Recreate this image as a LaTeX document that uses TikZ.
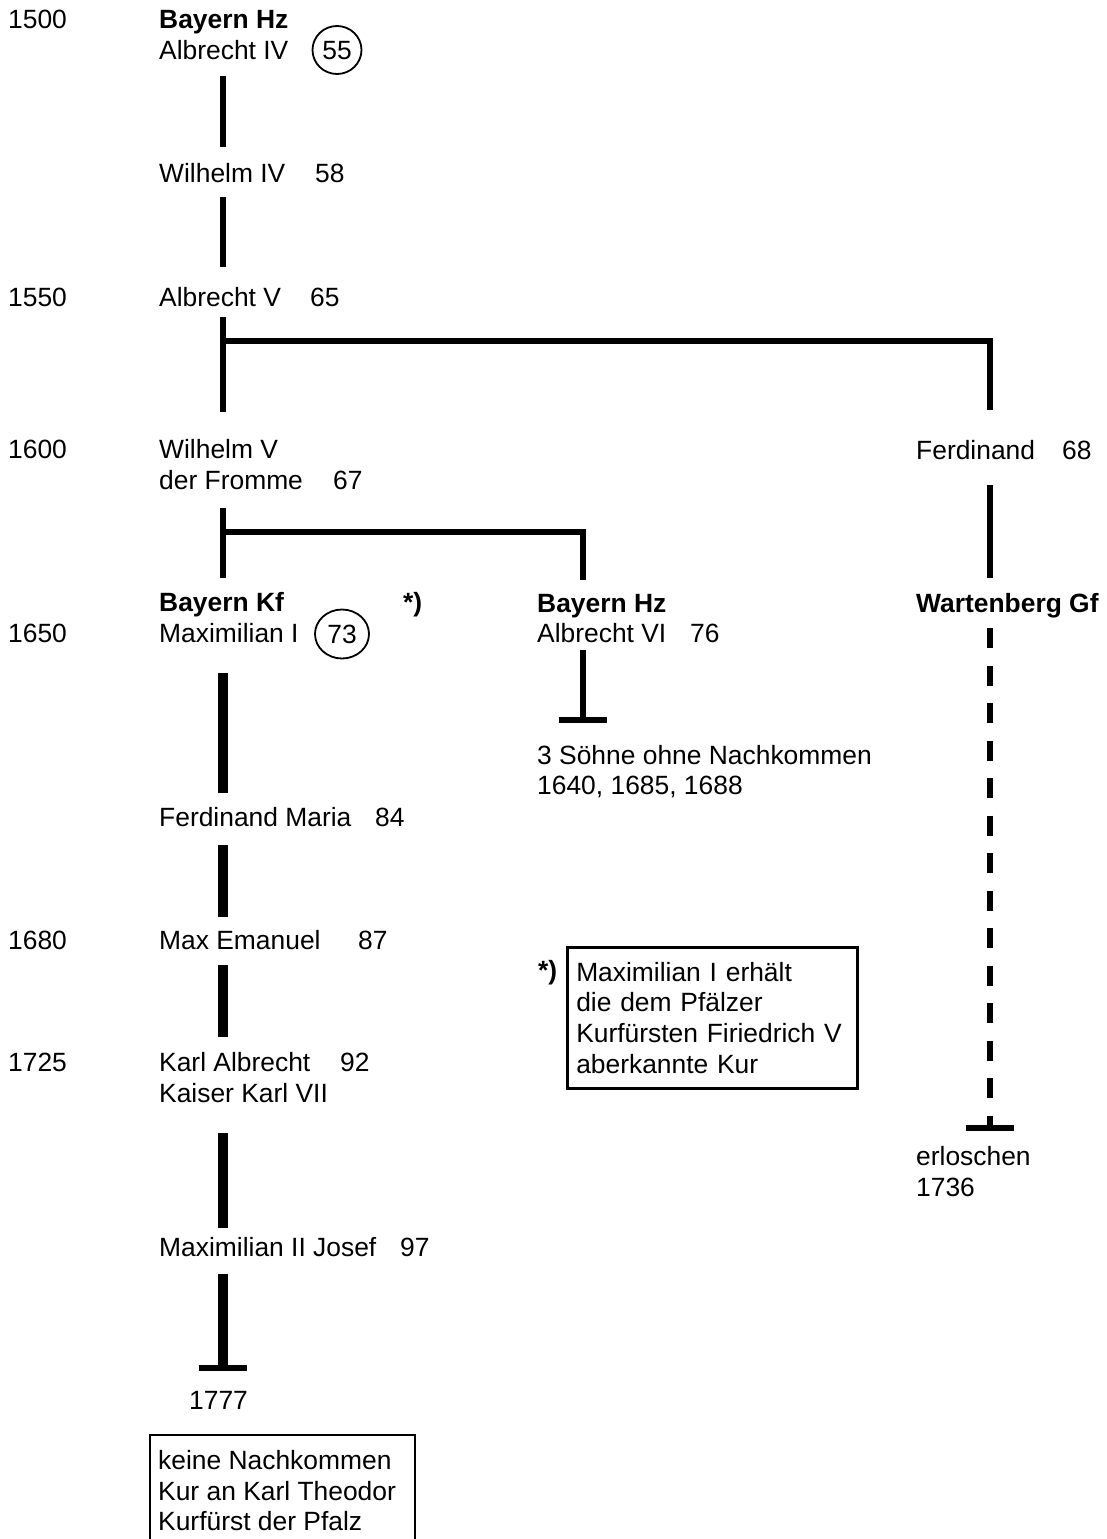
\documentclass[tikz,border=0pt]{standalone}
\usepackage{fontspec}
\setmainfont{Liberation Sans}
\usetikzlibrary{arrows.meta,shapes.geometric}

\newcommand{\chartfont}{\fontsize{26.4pt}{30.7pt}\selectfont}

\tikzset{
  person/.style={anchor=west, inner sep=0pt, text height=18.9pt, text depth=0pt},
  house/.style={person, font=\chartfont\bfseries},
  ring/.style={draw, ellipse, line width=1.8pt, inner sep=0pt, text height=18.9pt, text depth=0pt},
  famline/.style={line width=5.5pt},
  kurline/.style={line width=10pt},
  stopbar/.style={-{Bar[width=48pt, line width=5.5pt]}},
  notebox/.style={draw, line width=2.5pt, align=left, text width=272pt, inner xsep=9pt, minimum height=141pt},
}

\begin{document}
\begin{tikzpicture}[x=1pt, y=-1pt, font=\chartfont]
\useasboundingbox (0,0) rectangle (1106,1539);
\coordinate (spine) at (223,0);
\coordinate (midspine) at (583,0);
\coordinate (rightspine) at (990,0);

% Years
\node[person] (y1500) at (8,19) {1500};
\node[person] (y1550) at (8,297) {1550};
\node[person] (y1600) at (8,449) {1600};
\node[person] (y1650) at (8,633) {1650};
\node[person] (y1680) at (8,940) {1680};
\node[person] (y1725) at (8,1062) {1725};

% Main line
\node[house] (hzA) at (159,19) {Bayern Hz};
\node[person] (albIV) at (159,50) {Albrecht IV};
\node[ring, minimum width=49pt, minimum height=48pt] (c55) at (337,50) {55};
\node[person] (wilIV) at (159,173) {Wilhelm IV};
\node[person] (age58) at (315,173) {58};
\node[person] (albV) at (159,297) {Albrecht V};
\node[person] (age65) at (310,297) {65};
\node[person] (wilV) at (159,449) {Wilhelm V};
\node[person] (fromme) at (159,480) {der Fromme};
\node[person] (age67) at (333,480) {67};
\node[house] (kf) at (159,602) {Bayern Kf};
\node[house] (star1) at (403,602) {*)};
\node[person] (maxI) at (159,633) {Maximilian I};
\node[ring, minimum width=54pt, minimum height=49pt] (c73) at (342,634) {73};
\node[person] (ferdM) at (159,817) {Ferdinand Maria};
\node[person] (age84) at (375,817) {84};
\node[person] (maxE) at (159,940) {Max Emanuel};
\node[person] (age87) at (358,940) {87};
\node[person] (karlA) at (159,1062) {Karl Albrecht};
\node[person] (age92) at (340,1062) {92};
\node[person] (kaiser) at (159,1093) {Kaiser Karl VII};
\node[person] (maxII) at (159,1247) {Maximilian II Josef};
\node[person] (age97) at (400,1247) {97};
\node[person] (end1777) at (189,1400) {1777};
\node[anchor=north west, inner sep=0pt, align=left] (heirs) at (158,1450)
  {keine Nachkommen\\Kur an Karl Theodor\\Kurfürst der Pfalz};
\draw[line width=2.5pt] (150,1560) |- (415,1435) -- (415,1560);

% Albrecht VI
\node[house] (hzB) at (537,603) {Bayern Hz};
\node[person] (albVI) at (537,633) {Albrecht VI};
\node[person] (age76) at (690,633) {76};
\node[person] (sons) at (537,755) {3 Söhne ohne Nachkommen};
\node[person] (sonsyears) at (537,785) {1640, 1685, 1688};
\node[house] (star2) at (538,970) {*)};
\node[notebox, anchor=north west] (kurnote) at (566,946)
  {Maximilian I erhält\\die dem Pfälzer\\Kurfürsten Firiedrich V\\aberkannte Kur};

% Wartenberg
\node[person] (ferd) at (916,450) {Ferdinand};
\node[person] (age68) at (1062,450) {68};
\node[house] (wart) at (916,603) {Wartenberg Gf};
\node[person] (erl) at (916,1156) {erloschen};
\node[person] (erlyear) at (916,1187) {1736};

% Lines
\draw[famline, shorten <=16.5pt, shorten >=16.5pt] (albIV.south -| spine) -- (wilIV.north -| spine);
\draw[famline, shorten <=14.5pt, shorten >=20.5pt] (wilIV.south -| spine) -- (albV.north -| spine);
\draw[famline, shorten <=10.5pt, shorten >=27.5pt] (albV.south -| spine) -- (wilV.north -| spine);
\coordinate (fork1) at (223,341);
\draw[famline, shorten >=30.5pt] (fork1) -| (ferd.north -| rightspine);
\draw[famline, shorten <=25.5pt, shorten >=15.5pt] (ferd.south -| rightspine) -- (wart.north -| rightspine);
\draw[famline, shorten <=18.5pt, shorten >=14.5pt] (fromme.south -| spine) -- (kf.north -| spine);
\coordinate (fork2) at (223,532);
\draw[famline, shorten >=13.5pt] (fork2) -| (hzB.north -| midspine);
\draw[famline, stopbar, shorten <=7.5pt, shorten >=22.5pt] (albVI.south -| midspine) -- (sons.north -| midspine);
\draw[famline, dash pattern=on 20pt off 17.5pt, stopbar, shorten <=15.5pt, shorten >=15.5pt] (wart.south -| rightspine) -- (erl.north -| rightspine);

% Kur line
\draw[kurline, shorten <=30.5pt, shorten >=14.5pt] (maxI.south -| spine) -- (ferdM.north -| spine);
\draw[kurline, shorten <=18.5pt, shorten >=13.5pt] (ferdM.south -| spine) -- (maxE.north -| spine);
\draw[kurline, shorten <=15.5pt, shorten >=15.5pt] (maxE.south -| spine) -- (karlA.north -| spine);
\draw[kurline, shorten <=30.5pt, shorten >=9.5pt] (kaiser.south -| spine) -- (maxII.north -| spine);
\draw[kurline, stopbar, shorten <=17.5pt, shorten >=19.5pt] (maxII.south -| spine) -- (end1777.north -| spine);
\end{tikzpicture}
\end{document}
